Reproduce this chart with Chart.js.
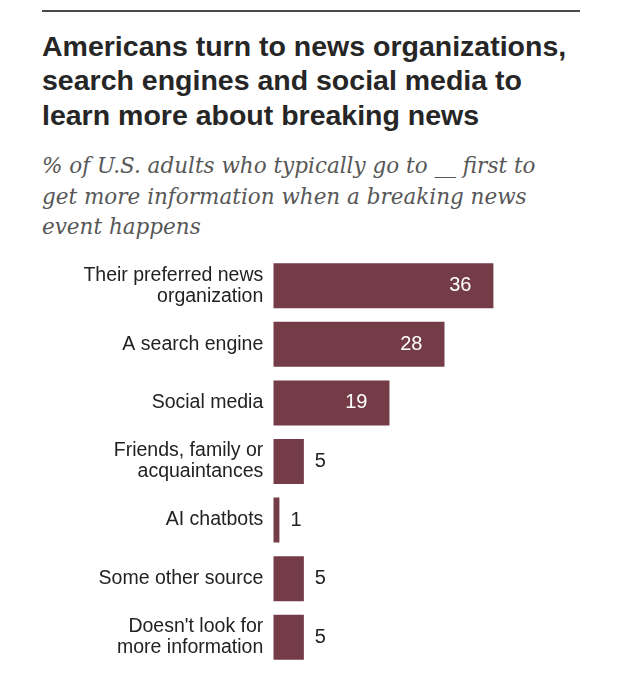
<!DOCTYPE html>
<html>
<head>
<meta charset="utf-8">
<script src="https://cdn.jsdelivr.net/npm/chart.js@4/dist/chart.umd.min.js"></script>
<style>
  html, body { margin: 0; padding: 0; background: #fff; }
  body { width: 620px; height: 675px; position: relative; overflow: hidden; }
  #rule { position: absolute; left: 42px; top: 10px; width: 538px; height: 2px; background: #4a4a4a; }
  #title {
    position: absolute; left: 42px; top: 28.6px; margin: 0;
    font: bold 28.5px/34.5px "Liberation Sans", Arial, sans-serif;
    color: #262626;
  }
  #subtitle {
    position: absolute; left: 42px; top: 151px; margin: 0;
    font: italic 21.5px/30.5px "DejaVu Serif", Georgia, serif;
    color: #575757;
  }
  #wrap { position: absolute; left: 0; top: 250px; width: 620px; height: 425px; }
</style>
</head>
<body>
<div id="rule"></div>
<h1 id="title">Americans turn to news organizations,<br>search engines and social media to<br>learn more about breaking news</h1>
<p id="subtitle">% of U.S. adults who typically go to __ first to<br>get more information when a breaking news<br>event happens</p>
<div id="wrap"><canvas id="chart"></canvas></div>
<script>
const categories = [
  ['Their preferred news', 'organization'],
  'A search engine',
  'Social media',
  ['Friends, family or', 'acquaintances'],
  'AI chatbots',
  'Some other source',
  ["Doesn't look for", 'more information']
];
const shares = [36, 28, 19, 5, 1, 5, 5];

const barColor = '#743c47';
const labelFont = '"Liberation Sans", Arial, sans-serif';

// numbers at the end of each bar: inside for wide bars, outside for short ones
const valueLabels = {
  id: 'valueLabels',
  afterDatasetsDraw(chart) {
    const ctx = chart.ctx;
    const meta = chart.getDatasetMeta(0);
    ctx.save();
    ctx.font = '20px ' + labelFont;
    ctx.textBaseline = 'middle';
    meta.data.forEach((bar, i) => {
      const v = shares[i];
      if (v >= 10) {
        ctx.fillStyle = '#ffffff';
        ctx.textAlign = 'right';
        ctx.fillText(String(v), bar.x - 22, bar.y);
      } else {
        ctx.fillStyle = '#222222';
        ctx.textAlign = 'left';
        ctx.fillText(String(v), bar.x + 11, bar.y);
      }
    });
    ctx.restore();
  }
};

const ctx = document.getElementById('chart').getContext('2d');
const chart = new Chart(ctx, {
  type: 'bar',
  data: {
    labels: categories,
    datasets: [{
      data: shares,
      backgroundColor: barColor,
      borderWidth: 0,
      barPercentage: 0.768,
      categoryPercentage: 1
    }]
  },
  options: {
    indexAxis: 'y',
    responsive: true,
    maintainAspectRatio: false,
    animation: false,
    layout: { padding: { top: 6.5, bottom: 8.5, left: 0, right: 41 } },
    scales: {
      x: { display: false, min: 0, max: 50 },
      y: {
        grid: { display: false, drawTicks: false },
        border: { display: false },
        ticks: {
          padding: 10,
          color: '#222222',
          font: { family: labelFont, size: 19.5, lineHeight: 1.08 }
        },
        afterFit(scale) {
          scale.width = 273.3;
          // labels sit inside the category bands, no extra room needed
          scale.paddingTop = 0;
          scale.paddingBottom = 0;
        }
      }
    },
    plugins: {
      legend: { display: false },
      tooltip: { enabled: false },
      title: { display: false }
    }
  },
  plugins: [valueLabels]
});
</script>
</body>
</html>
